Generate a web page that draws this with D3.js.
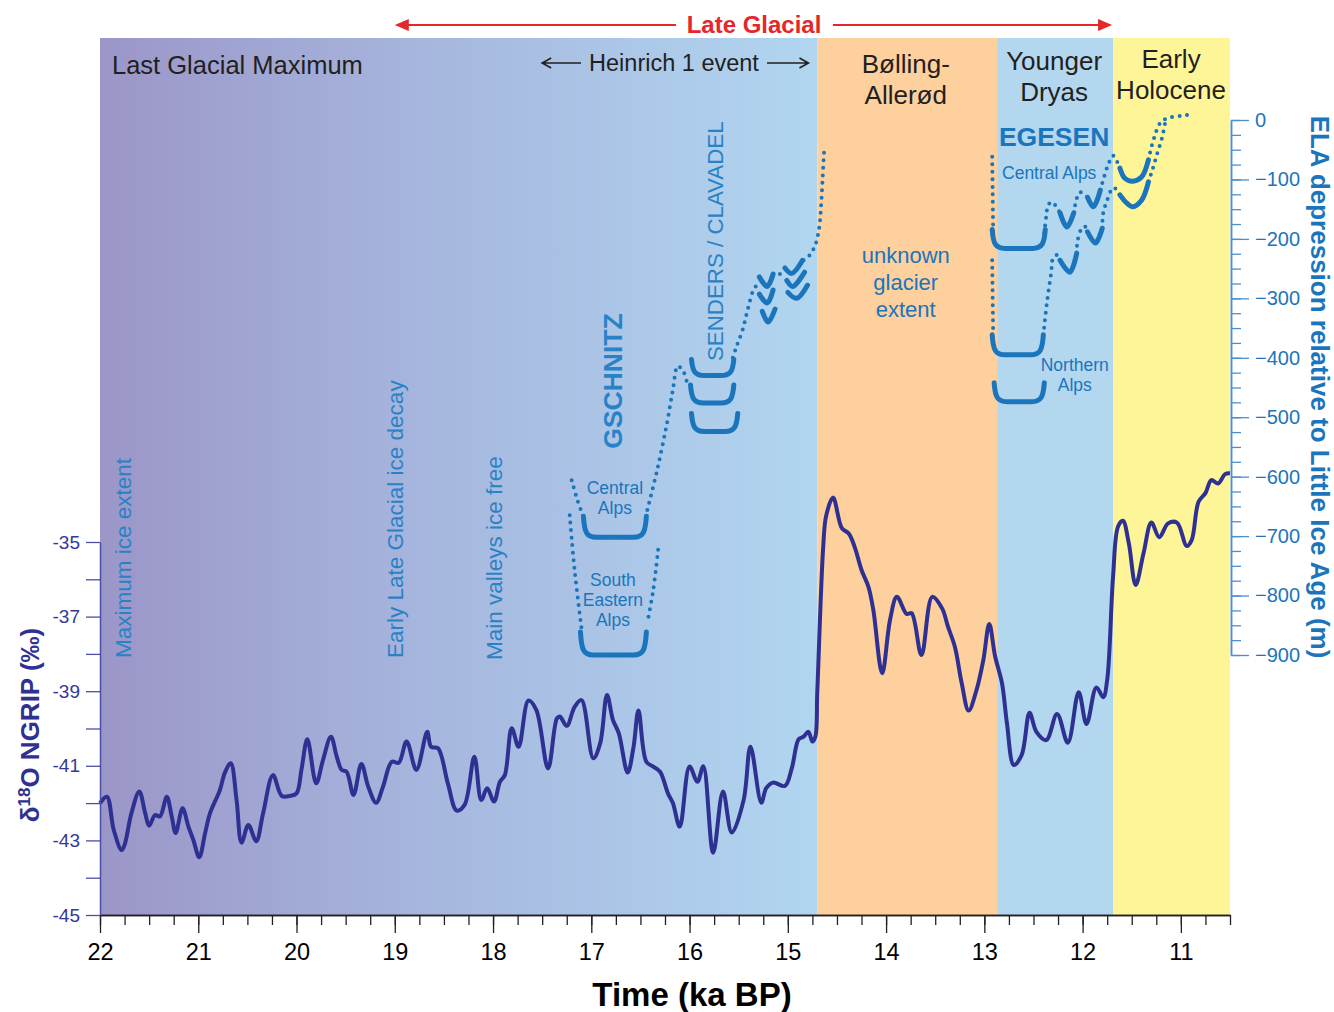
<!DOCTYPE html>
<html>
<head>
<meta charset="utf-8">
<script src="https://cdnjs.cloudflare.com/ajax/libs/d3/7.8.5/d3.min.js"></script>
<style>
  body { margin: 0; background: #fff; }
  text { font-family: Arial, "Liberation Sans", sans-serif; }
</style>
</head>
<body>
<svg id="chart" width="1334" height="1012"></svg>
<script>
// NGRIP d18O record [age ka BP, permil]
var ngrip = [
  [22.00,-42.00],[21.93,-41.83],[21.86,-42.72],[21.78,-43.26],[21.75,-43.12],[21.68,-42.27],[21.60,-41.69],
  [21.54,-42.27],[21.50,-42.61],[21.44,-42.32],[21.39,-42.36],[21.32,-41.83],[21.27,-42.36],[21.23,-42.80],
  [21.16,-42.14],[21.10,-42.63],[21.05,-42.99],[20.99,-43.45],[20.93,-42.80],[20.88,-42.27],[20.78,-41.65],
  [20.73,-41.19],[20.67,-40.93],[20.61,-41.92],[20.56,-43.06],[20.49,-42.59],[20.41,-43.02],[20.34,-42.27],
  [20.24,-41.25],[20.15,-41.81],[20.07,-41.81],[20.00,-41.74],[19.95,-41.11],[19.89,-40.29],[19.80,-41.47],
  [19.73,-40.84],[19.65,-40.22],[19.59,-40.76],[19.54,-41.11],[19.49,-41.16],[19.42,-41.78],[19.34,-40.95],
  [19.27,-41.56],[19.19,-41.99],[19.12,-41.56],[19.03,-40.89],[18.96,-40.92],[18.88,-40.35],[18.78,-41.11],
  [18.67,-40.09],[18.63,-40.49],[18.56,-40.53],[18.46,-41.47],[18.37,-42.20],[18.29,-42.05],[18.19,-40.76],
  [18.12,-41.92],[18.06,-41.60],[17.99,-41.96],[17.93,-41.43],[17.88,-41.25],[17.81,-39.99],[17.74,-40.49],
  [17.64,-39.25],[17.56,-39.50],[17.44,-41.07],[17.35,-39.73],[17.32,-39.68],[17.25,-39.93],[17.17,-39.42],
  [17.10,-39.24],[16.98,-40.80],[16.91,-40.40],[16.84,-39.10],[16.78,-39.77],[16.72,-40.13],[16.63,-41.18],
  [16.57,-40.49],[16.52,-39.52],[16.44,-40.89],[16.37,-41.02],[16.30,-41.16],[16.22,-41.74],[16.17,-42.00],
  [16.10,-42.63],[16.00,-41.02],[15.92,-41.43],[15.86,-41.01],[15.76,-43.33],[15.66,-41.69],[15.57,-42.79],
  [15.45,-41.92],[15.38,-40.49],[15.27,-41.99],[15.22,-41.60],[15.15,-41.45],[15.03,-41.54],[14.96,-41.07],
  [14.89,-40.29],[14.84,-40.22],[14.79,-40.09],[14.75,-40.35],[14.72,-40.22],[14.70,-39.00],[14.64,-35.13],
  [14.61,-34.30],[14.54,-33.81],[14.45,-34.63],[14.38,-34.77],[14.32,-35.13],[14.25,-35.75],[14.18,-36.20],
  [14.13,-36.82],[14.04,-38.52],[13.96,-37.09],[13.89,-36.47],[13.79,-36.93],[13.74,-36.91],[13.64,-38.03],
  [13.53,-36.47],[13.43,-36.78],[13.37,-37.27],[13.30,-37.81],[13.23,-38.79],[13.16,-39.52],[13.08,-38.97],
  [13.01,-38.16],[12.95,-37.20],[12.89,-38.07],[12.82,-38.79],[12.77,-39.86],[12.70,-40.98],[12.62,-40.71],
  [12.54,-39.58],[12.47,-40.09],[12.37,-40.31],[12.26,-39.61],[12.15,-40.38],[12.04,-39.03],[11.96,-39.88],
  [11.86,-38.90],[11.79,-39.16],[11.75,-38.70],[11.69,-35.93],[11.64,-34.59],[11.59,-34.43],[11.53,-35.03],
  [11.46,-36.15],[11.38,-35.30],[11.30,-34.48],[11.22,-34.87],[11.13,-34.50],[11.04,-34.48],[10.94,-35.11],
  [10.89,-34.95],[10.82,-33.92],[10.75,-33.69],[10.69,-33.34],[10.62,-33.43],[10.55,-33.18],[10.50,-33.16]
];

// climate periods (ka BP)
var periodBounds = [[22, 14.7], [14.7, 12.87], [12.87, 11.69], [11.69, 10.5]];
var periodNames = [["Last Glacial Maximum"], ["Bølling-", "Allerød"], ["Younger", "Dryas"], ["Early", "Holocene"]];

// axis ticks
var ageTicks = [22, 21, 20, 19, 18, 17, 16, 15, 14, 13, 12, 11];
var d18oTicks = [-45, -44, -43, -42, -41, -40, -39, -38, -37, -36, -35];
var elaTicks = [0, -100, -200, -300, -400, -500, -600, -700, -800, -900];

// glacier stage brackets: left age, right age, ELA depression (m)
var brackets = [
  {t0: 17.07, t1: 16.45, ela: -702, arm: 21},   // Gschnitz central Alps
  {t0: 17.10, t1: 16.45, ela: -900, arm: 23},   // Gschnitz SE Alps
  {t0: 15.97, t1: 15.56, ela: -430, arm: 16},   // Senders / Clavadel
  {t0: 15.98, t1: 15.56, ela: -476, arm: 18},
  {t0: 15.97, t1: 15.52, ela: -524, arm: 18},
  {t0: 12.91, t1: 12.39, ela: -216, arm: 19},   // Egesen central Alps
  {t0: 12.91, t1: 12.41, ela: -395, arm: 20},   // Egesen northern Alps
  {t0: 12.89, t1: 12.40, ela: -474, arm: 19}
];

// small solid V / U marks (later stadials)
var vMarks = [
  [[15.29,-264],[15.21,-280],[15.15,-259]],
  [[15.29,-293],[15.21,-308],[15.15,-286]],
  [[15.26,-322],[15.20,-340],[15.13,-318]],
  [[15.03,-249],[14.96,-258],[14.85,-236]],
  [[15.01,-270],[14.95,-280],[14.83,-256]],
  [[15.00,-290],[14.91,-300],[14.80,-278]],
  [[12.23,-156],[12.16,-180],[12.09,-156]],
  [[11.95,-130],[11.89,-146],[11.82,-118]],
  [[12.23,-236],[12.13,-256],[12.06,-224]],
  [[11.95,-188],[11.87,-207],[11.80,-182]],
  [[11.62,-81],[11.57,-98],[11.49,-103],[11.40,-96],[11.33,-67]],
  [[11.62,-126],[11.55,-140],[11.49,-146],[11.40,-135],[11.33,-104]]
];

// dotted ELA connections
var dotted = [
  [[17.20,-606],[17.14,-640],[17.08,-668]],
  [[16.43,-656],[16.33,-589],[16.23,-510],[16.17,-454],[16.12,-414],[16.06,-424],[16.02,-446]],
  [[17.22,-665],[17.17,-757],[17.10,-855]],
  [[16.32,-723],[16.37,-791],[16.43,-846]],
  [[15.56,-400],[15.52,-380],[15.46,-353],[15.41,-320],[15.35,-286],[15.30,-275]],
  [[15.15,-262],[15.10,-262],[15.05,-252]],
  [[14.84,-236],[14.78,-228],[14.72,-210],[14.68,-180],[14.66,-140],[14.645,-95],[14.63,-50]],
  [[12.92,-62],[12.915,-125],[12.91,-190]],
  [[12.39,-190],[12.37,-162],[12.35,-143],[12.31,-138],[12.26,-148],[12.23,-156]],
  [[12.09,-156],[12.06,-132],[12.03,-122],[11.98,-124],[11.95,-130]],
  [[11.82,-118],[11.78,-95],[11.74,-75],[11.69,-60],[11.65,-70],[11.62,-81]],
  [[11.33,-67],[11.28,-34],[11.21,-5],[11.14,3],[11.00,7],[10.88,10]],
  [[12.92,-236],[12.915,-300],[12.91,-362]],
  [[12.40,-362],[12.36,-303],[12.32,-257],[12.30,-232],[12.26,-227],[12.23,-236]],
  [[12.06,-224],[12.05,-202],[12.00,-180],[11.97,-180],[11.95,-188]],
  [[11.80,-182],[11.79,-156],[11.75,-135],[11.69,-114],[11.65,-118],[11.62,-126]],
  [[11.33,-104],[11.29,-84],[11.24,-56],[11.19,-29],[11.16,-5]]
];

var svg = d3.select("#chart");
var dims = {left: 100, right: 1230, top: 38, bottom: 915};

var x = d3.scaleLinear().domain([22, 10.5]).range([dims.left, dims.right]);
var yL = d3.scaleLinear().domain([-45, -35]).range([915, 542]);
var yE = d3.scaleLinear().domain([0, -900]).range([120, 655]);

var glacierBlue = "#1b75bc";
var labelBlue = "#2a82c6";
var ngripBlue = "#2e3192";

// gradient for glacial period
var defs = svg.append("defs");
var grad = defs.append("linearGradient").attr("id", "glacialGrad")
    .attr("x1", "0%").attr("x2", "100%").attr("y1", "0%").attr("y2", "0%");
grad.append("stop").attr("offset", "0%").attr("stop-color", "#9b96c8");
grad.append("stop").attr("offset", "45%").attr("stop-color", "#a6b6de");
grad.append("stop").attr("offset", "100%").attr("stop-color", "#b1d6f0");

var periodFills = ["url(#glacialGrad)", "#fdd09d", "#b2d7ef", "#fef599"];

svg.append("g").selectAll("rect")
    .data(periodBounds)
    .enter()
    .append("rect")
    .attr("x", d => x(d[0]))
    .attr("width", d => x(d[1]) - x(d[0]))
    .attr("y", dims.top)
    .attr("height", dims.bottom - dims.top)
    .attr("fill", (d, i) => periodFills[i]);

// period titles
var titlePos = [
  {x: 112, y: 74, anchor: "start", size: 25.5},
  {x: x(13.8), y: 73, anchor: "middle", size: 26},
  {x: x(12.29), y: 70, anchor: "middle", size: 26},
  {x: x(11.1), y: 68, anchor: "middle", size: 26}
];
periodNames.forEach(function(lines, i) {
  var t = svg.append("text")
      .attr("x", titlePos[i].x).attr("y", titlePos[i].y)
      .attr("text-anchor", titlePos[i].anchor)
      .attr("fill", "#231f20")
      .style("font-size", titlePos[i].size + "px");
  lines.forEach(function(l, j) {
    t.append("tspan").attr("x", titlePos[i].x).attr("dy", j == 0 ? 0 : 31).text(l);
  });
});

// Late Glacial arrow
var red = "#e5262a";
var lgY = 25;
svg.append("line").attr("x1", x(19) + 8).attr("x2", 676).attr("y1", lgY).attr("y2", lgY)
    .attr("stroke", red).attr("stroke-width", 2);
svg.append("line").attr("x1", 833).attr("x2", x(11.7) - 8).attr("y1", lgY).attr("y2", lgY)
    .attr("stroke", red).attr("stroke-width", 2);
svg.append("path").attr("d", `M${x(19)},${lgY} l14,-6 l0,12 z`).attr("fill", red);
svg.append("path").attr("d", `M${x(11.7)},${lgY} l-14,-6 l0,12 z`).attr("fill", red);
svg.append("text").attr("x", 754).attr("y", lgY + 8).attr("text-anchor", "middle")
    .attr("fill", red).style("font-size", "24px").style("font-weight", "bold").text("Late Glacial");

// Heinrich 1 event
var hY = 63;
svg.append("text").attr("x", 674).attr("y", hY + 8).attr("text-anchor", "middle")
    .attr("fill", "#231f20").style("font-size", "23.5px").text("Heinrich 1 event");
[[581, x(17.5)], [767, x(14.79)]].forEach(function(a) {
  var dir = a[1] < a[0] ? 1 : -1;
  svg.append("path")
     .attr("d", `M${a[0]},${hY} L${a[1]},${hY} M${a[1] + dir * 9},${hY - 5} L${a[1]},${hY} L${a[1] + dir * 9},${hY + 5}`)
     .attr("fill", "none").attr("stroke", "#231f20").attr("stroke-width", 1.6);
});

// blue annotations
function vText(tx, ty, str, size, weight, anchor) {
  svg.append("text")
     .attr("transform", `translate(${tx},${ty}) rotate(-90)`)
     .attr("text-anchor", anchor || "start")
     .attr("fill", labelBlue)
     .style("font-size", size + "px")
     .style("font-weight", weight || "normal")
     .text(str);
}
vText(x(21.77) + 8, 658, "Maximum ice extent", 22.5);
vText(x(19.0) + 8, 658, "Early Late Glacial ice decay", 22.5);
vText(x(17.99) + 8, 660, "Main valleys ice free", 22.5);
vText(x(16.78) + 9, 381, "GSCHNITZ", 26.5, "bold", "middle");
vText(x(15.74) + 8, 361, "SENDERS / CLAVADEL", 22.3);

function blockText(cx, cy, lines, size, weight, gap) {
  var t = svg.append("text").attr("x", cx).attr("y", cy).attr("text-anchor", "middle")
      .attr("fill", glacierBlue).style("font-size", size + "px").style("font-weight", weight || "normal");
  lines.forEach(function(l, j) {
    t.append("tspan").attr("x", cx).attr("dy", j == 0 ? 0 : gap).text(l);
  });
}
blockText(x(16.76), 494, ["Central", "Alps"], 17.5, "normal", 20);
blockText(x(16.78), 586, ["South", "Eastern", "Alps"], 17.5, "normal", 20);
blockText(x(13.8), 263, ["unknown", "glacier", "extent"], 22, "normal", 27);
blockText(x(12.29), 146, ["EGESEN"], 26.5, "bold", 0);
blockText(x(12.34), 179, ["Central Alps"], 17.5, "normal", 0);
blockText(x(12.08), 371, ["Northern", "Alps"], 17.5, "normal", 20);

// glacier symbols
var gLine = d3.line().x(d => x(d[0])).y(d => yE(d[1])).curve(d3.curveCatmullRom.alpha(0.5));

svg.append("g").selectAll("path")
    .data(dotted)
    .enter()
    .append("path")
    .attr("d", d => gLine(d))
    .attr("fill", "none")
    .attr("stroke", glacierBlue)
    .attr("stroke-width", 4)
    .attr("stroke-linecap", "round")
    .attr("stroke-dasharray", "0 7.5");

svg.append("g").selectAll("path")
    .data(brackets)
    .enter()
    .append("path")
    .attr("d", function(b) {
      var x0 = x(b.t0), x1 = x(b.t1), yb = yE(b.ela);
      return `M${x0 - 1},${yb - b.arm} C${x0},${yb - 5} ${x0 + 2},${yb} ${x0 + 12},${yb} ` +
             `L${x1 - 12},${yb} C${x1 - 2},${yb} ${x1},${yb - 5} ${x1 + 1},${yb - b.arm}`;
    })
    .attr("fill", "none")
    .attr("stroke", glacierBlue)
    .attr("stroke-width", 5)
    .attr("stroke-linecap", "round");

svg.append("g").selectAll("path")
    .data(vMarks)
    .enter()
    .append("path")
    .attr("d", d => gLine(d))
    .attr("fill", "none")
    .attr("stroke", glacierBlue)
    .attr("stroke-width", 5)
    .attr("stroke-linecap", "round")
    .attr("stroke-linejoin", "round");

// NGRIP curve
var line = d3.line().x(d => x(d[0])).y(d => yL(d[1])).curve(d3.curveCatmullRom.alpha(0.5));
svg.append("path")
    .attr("d", line(ngrip))
    .attr("fill", "none")
    .attr("stroke", ngripBlue)
    .attr("stroke-width", 4)
    .attr("stroke-linejoin", "round");

// bottom axis
var minorAges = d3.range(0, 47).map(i => 22 - i * 0.25);
var xMinor = svg.append("g").attr("transform", `translate(0,${dims.bottom})`)
    .call(d3.axisBottom(x).tickValues(minorAges).tickSize(10).tickFormat("").tickSizeOuter(0));
var xMajor = svg.append("g").attr("transform", `translate(0,${dims.bottom})`)
    .call(d3.axisBottom(x).tickValues(ageTicks).tickSize(18).tickSizeOuter(0).tickPadding(10));
[xMinor, xMajor].forEach(function(g) {
  g.selectAll("line").attr("stroke", "#231f20").attr("stroke-width", 1.3);
  g.select(".domain").attr("stroke", "#231f20").attr("stroke-width", 1.5);
});
xMajor.selectAll("text").style("font-size", "23.5px").attr("fill", "#000")
    .style("font-family", "Arial, 'Liberation Sans', sans-serif");

svg.append("text").attr("x", 692).attr("y", 1006).attr("text-anchor", "middle")
    .style("font-size", "33px").style("font-weight", "bold").attr("fill", "#000").text("Time (ka BP)");

// left axis
var yAxisL = svg.append("g").attr("transform", `translate(${dims.left},0)`)
    .call(d3.axisLeft(yL).tickValues(d18oTicks).tickSize(14).tickSizeOuter(0).tickPadding(6)
      .tickFormat(d => (d % 2 != 0) ? d : ""));
yAxisL.selectAll("line").attr("stroke", "#4a4ea6").attr("stroke-width", 1.3);
yAxisL.select(".domain").attr("stroke", "#4a4ea6").attr("stroke-width", 1.5);
yAxisL.selectAll("text").style("font-size", "19px").attr("fill", "#34389a")
    .style("font-family", "Arial, 'Liberation Sans', sans-serif");

var lt = svg.append("text")
    .attr("transform", `translate(39,${725}) rotate(-90)`)
    .attr("text-anchor", "middle")
    .attr("fill", ngripBlue)
    .style("font-size", "26px").style("font-weight", "bold");
lt.append("tspan").text("δ");
lt.append("tspan").attr("dy", -9).style("font-size", "17px").text("18");
lt.append("tspan").attr("dy", 9).text("O NGRIP (‰)");

// right axis
var minorEla = d3.range(0, 37).map(i => -i * 25);
var yMinorR = svg.append("g").attr("transform", `translate(${dims.right + 1},0)`)
    .call(d3.axisRight(yE).tickValues(minorEla).tickSize(10).tickFormat("").tickSizeOuter(0));
var yMajorR = svg.append("g").attr("transform", `translate(${dims.right + 1},0)`)
    .call(d3.axisRight(yE).tickValues(elaTicks).tickSize(18).tickSizeOuter(0).tickPadding(6));
[yMinorR, yMajorR].forEach(function(g) {
  g.selectAll("line").attr("stroke", "#4d8fcc").attr("stroke-width", 1.3);
  g.select(".domain").attr("stroke", "#4d8fcc").attr("stroke-width", 1.5);
});
yMajorR.selectAll("text").style("font-size", "20px").attr("fill", glacierBlue)
    .style("font-family", "Arial, 'Liberation Sans', sans-serif");

svg.append("text")
    .attr("transform", `translate(1311,${387}) rotate(90)`)
    .attr("text-anchor", "middle")
    .attr("fill", glacierBlue)
    .style("font-size", "26px").style("font-weight", "bold")
    .text("ELA depression relative to Little Ice Age (m)");
</script>
</body>
</html>
